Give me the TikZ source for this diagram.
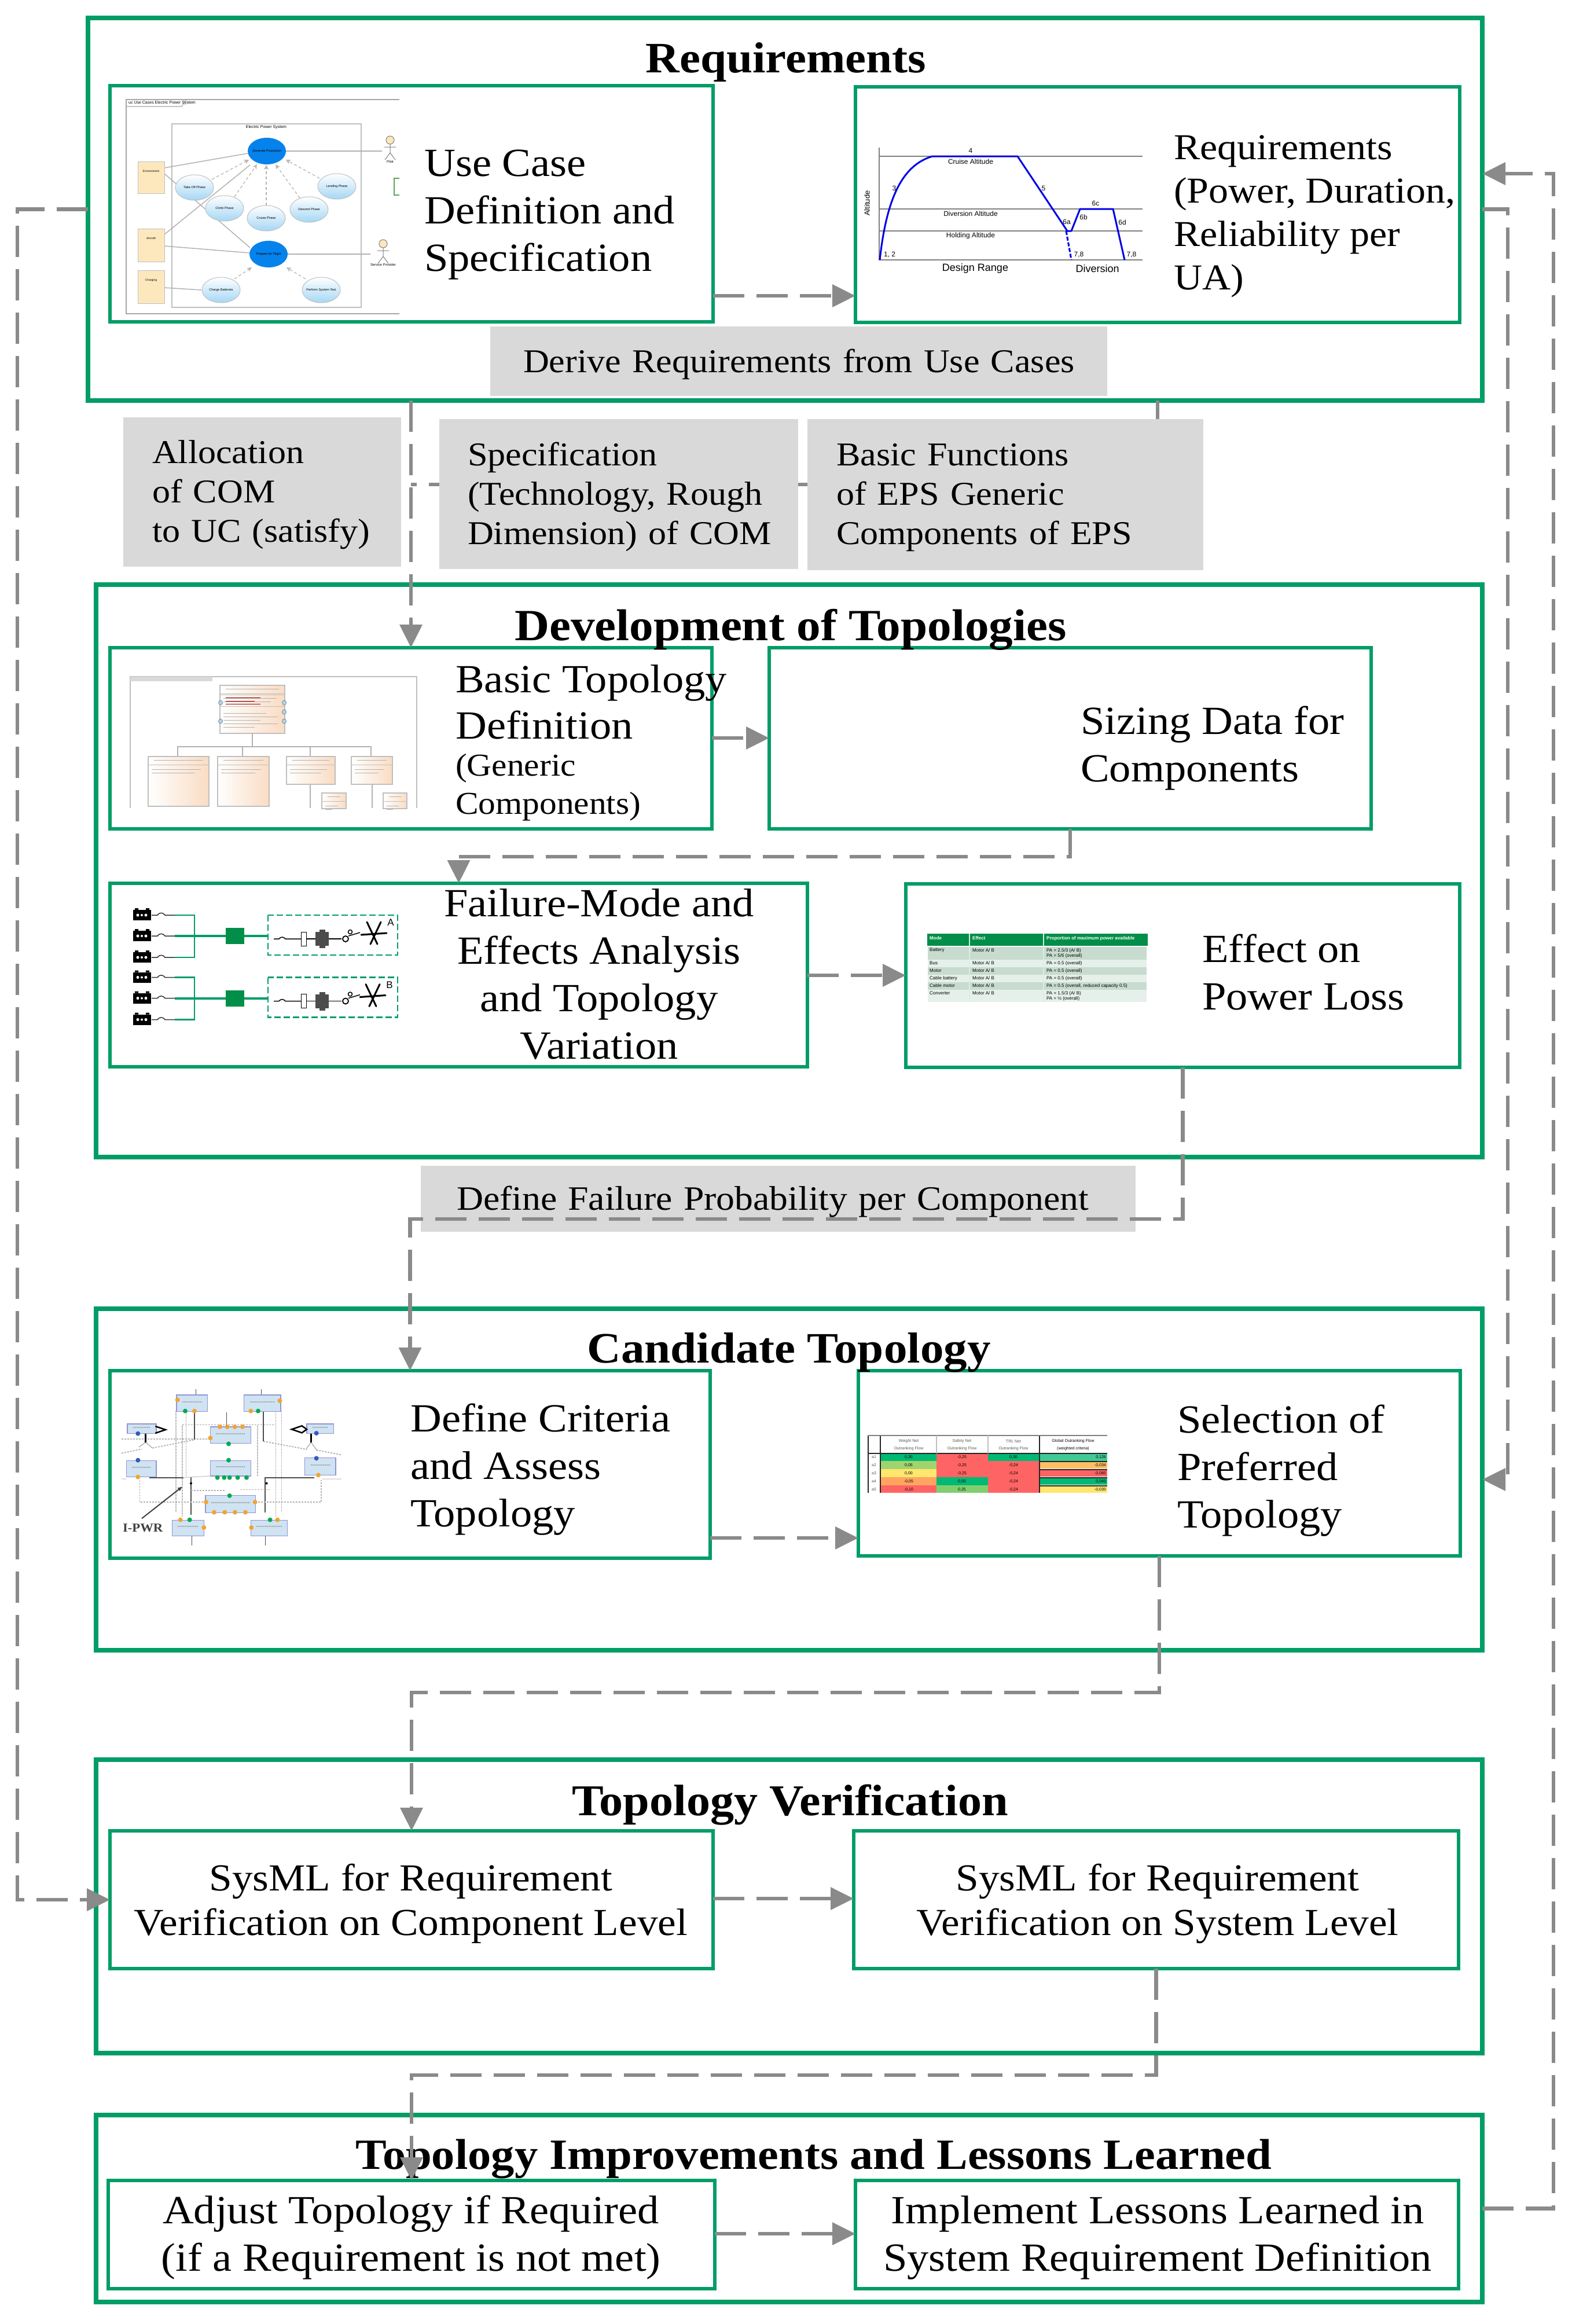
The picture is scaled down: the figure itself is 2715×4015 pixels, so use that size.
\documentclass[tikz,border=0pt]{standalone}
\usepackage{fontspec}
\setmainfont[FakeStretch=1.08]{Liberation Serif}
\newfontfamily\minif{Liberation Sans}
\usetikzlibrary{arrows.meta,calc}
\definecolor{boxgreen}{RGB}{0,157,102}
\definecolor{flowgray}{RGB}{138,138,138}
\definecolor{labgray}{RGB}{217,217,217}
\definecolor{ucblue}{RGB}{5,130,235}
\definecolor{ucpale}{RGB}{165,215,245}
\definecolor{peach}{RGB}{250,220,195}
\definecolor{amber}{RGB}{253,232,190}
\definecolor{tblgreen}{RGB}{0,142,72}
\definecolor{rowdark}{RGB}{199,220,207}
\definecolor{rowlight}{RGB}{230,240,234}
\definecolor{blockblue}{RGB}{207,227,243}
\definecolor{pip}{RGB}{240,165,50}
\definecolor{pipg}{RGB}{0,170,80}
\definecolor{pipb}{RGB}{50,90,190}
\definecolor{rkred}{RGB}{255,100,100}
\definecolor{rkgreen}{RGB}{0,185,115}
\definecolor{rklg}{RGB}{160,212,110}
\definecolor{rkyel}{RGB}{255,230,110}
\definecolor{rkora}{RGB}{255,165,95}
\newcommand\bodyf{\fontsize{69}{82}\selectfont}
\newcommand\labf{\fontsize{57.5}{68}\selectfont}
\newcommand\titf{\fontsize{75}{88}\selectfont\bfseries}
\tikzset{
  x=1pt,y=-1pt,
  outerbox/.style={draw=boxgreen,line width=7.5pt,inner sep=0pt,outer sep=0pt},
  innerbox/.style={draw=boxgreen,line width=6pt,fill=white,inner sep=0pt,outer sep=0pt},
  flowline/.style={draw=flowgray,line width=6.5pt,dash pattern=on 54pt off 21pt},
  flow/.style={flowline,-{Triangle[length=40pt,width=38pt,fill=flowgray]}},
  boxtext/.style={inner sep=0pt,anchor=west,align=left,font=\bodyf},
  boxctext/.style={inner sep=0pt,align=center,font=\bodyf},
  titletext/.style={inner sep=0pt,font=\titf},
  mtxt/.style={inner sep=0pt,font=\minif\fontsize{#1}{#1}\selectfont},
  mtxt/.default=9,
  thin gray/.style={draw=gray!60,line width=1.5pt},
  ucdash/.style={gray!60,line width=1.2pt,dash pattern=on 5pt off 4pt,-{Stealth[open,length=8pt,width=8pt]}},
}
\newcommand\bx[6]{\node[#6,minimum width={#4-#2},minimum height={#5-#3}] (#1) at ({(#2+#4)/2},{(#3+#5)/2}) {};}
\newcommand\glab[7]{\node[fill=labgray,inner sep=0pt,outer sep=0pt,minimum height={#5-#3},text width={#4-#2},font=\labf,align=left,anchor=west] (#1) at (#2,{(#3+#5)/2}) {\hspace*{#6pt}\parbox[c]{\dimexpr #4pt-#2pt-#6pt\relax}{\raggedright\vspace*{10pt}#7}};}
\begin{document}
\begin{tikzpicture}
\useasboundingbox (0,0) rectangle (2715,4015);
\fill[white] (0,0) rectangle (2715,4015);
% outer boxes
\bx{reqout}{152}{31}{2561}{692}{outerbox}
\bx{devout}{166}{1010}{2561}{1999}{outerbox}
\bx{candout}{166}{2261}{2561}{2851}{outerbox}
\bx{verout}{166}{3040}{2561}{3547}{outerbox}
\bx{impout}{166}{3654}{2561}{3977}{outerbox}
% inner boxes
\bx{uc}{190}{148}{1232}{556}{innerbox}
\bx{reqbox}{1478}{150}{2522}{557}{innerbox}
\bx{basic}{190}{1119}{1230}{1432}{innerbox}
\bx{sizing}{1329}{1119}{2369}{1432}{innerbox}
\bx{failure}{190}{1526}{1395}{1843}{innerbox}
\bx{effect}{1565}{1527}{2522}{1844}{innerbox}
\bx{criteria}{190}{2368}{1227}{2692}{innerbox}
\bx{selection}{1483}{2368}{2523}{2688}{innerbox}
\bx{comp}{190}{3163}{1232}{3401}{innerbox}
\bx{sysl}{1475}{3163}{2520}{3401}{innerbox}
\bx{adjust}{187}{3767}{1235}{3954}{innerbox}
\bx{implement}{1478}{3767}{2520}{3954}{innerbox}
% helper coordinates
\coordinate (railL) at (30,0);
\coordinate (railRa) at (2605,0);
\coordinate (railRb) at (2684,0);
\coordinate (xbranch) at (2000,0);
\coordinate (y300) at (0,300);
\coordinate (y511) at (0,511);
\coordinate (ybranch) at (0,837);
\coordinate (y1275) at (0,1275);
\coordinate (y1480) at (0,1480);
\coordinate (y1685) at (0,1685);
\coordinate (y2106) at (0,2106);
\coordinate (y2657) at (0,2657);
\coordinate (y2924) at (0,2924);
\coordinate (y3280) at (0,3280);
\coordinate (y3585) at (0,3585);
\coordinate (y3859) at (0,3859);
% connectors under the grey labels
\draw[flow] (reqout.south -| basic.north) -- (basic.north);
\draw[flowline] (reqout.south -| xbranch) |- (basic.north |- ybranch);
% grey labels
\glab{derive}{847}{564}{1913}{684}{57}{Derive Requirements from Use Cases}
\glab{alloc}{213}{721}{693}{979}{50}{Allocation\\of COM\\to UC (satisfy)}
\glab{spec}{759}{724}{1379}{983}{49}{Specification\\(Technology, Rough\\Dimension) of COM}
\glab{funcs}{1395}{724}{2079}{985}{50}{Basic Functions\\of EPS Generic\\Components of EPS}
\glab{deffail}{727}{2014}{1962}{2128}{62}{\fontsize{59}{68}\selectfont Define Failure Probability per Component}
% connectors
\draw[flow] (reqout.west) -- (railL |- reqout.west) -- (railL |- comp.west) -- (comp.west);
\draw[flow] (reqout.east) -- (railRa |- reqout.east) -- (railRa |- candout.east) -- (candout.east);
\draw[flow] (impout.east) -- (railRb |- impout.east) -- (railRb |- y300) -- (reqout.east |- y300);
\draw[flow] (uc.east |- y511) -- (reqbox.west |- y511);
\draw[flow] (basic.east |- y1275) -- (sizing.west |- y1275);
\draw[flow] (sizing.south) -- (sizing.south |- y1480) -| (failure.north);
\draw[flow] (failure.east |- y1685) -- (effect.west |- y1685);
\draw[flow] (effect.south) -- (effect.south |- y2106) -| (criteria.north);
\draw[flow] (criteria.east |- y2657) -- (selection.west |- y2657);
\draw[flow] (selection.south) -- (selection.south |- y2924) -| (comp.north);
\draw[flow] (comp.east |- y3280) -- (sysl.west |- y3280);
\draw[flow] (adjust.east |- y3859) -- (implement.west |- y3859);
% ===== use case miniature
\draw[gray!70,line width=1.5pt] (690,172) -- (218,172) -- (218,542) -- (690,542);
\draw[gray!70,line width=1.2pt] (218,184) -- (314,184) -- (322,172);
\node[mtxt=7,anchor=west] (uctag) at (222,178) {uc Use Cases Electric Power System};
\draw[gray!50,line width=1.5pt,fill=white] (297,214) rectangle (624,531);
\node[mtxt=7] (ucsys) at (460,220) {Electric Power System};
\draw[thin gray] (284,290) -- (428,265) (284,300) -- (432,428) (284,405) -- (432,285) (284,425) -- (432,437) (284,497) -- (348,501);
\draw[thin gray] (494,261) -- (660,261) (497,439) -- (640,439);
\draw[ucdash] (366,310) -- (430,276);
\draw[ucdash] (405,340) -- (444,284);
\draw[ucdash] (460,355) -- (460,285);
\draw[ucdash] (518,342) -- (476,284);
\draw[ucdash] (552,308) -- (494,276);
\draw[ucdash] (405,482) -- (435,462);
\draw[ucdash] (528,482) -- (495,462);
\foreach \cx/\cy/\tt in {336/324/Take-Off Phase,388/360/Climb Phase,460/377/Cruise Phase,534/362/Descent Phase,582/322/Landing Phase,382/501/Charge Batteries,555/501/Perform System Test}{
  \draw[gray!50,line width=1pt,top color=white,bottom color=ucpale] (\cx,\cy) ellipse (33 and 22);
  \node[mtxt=5.5] (ucn) at (\cx,\cy) {\tt};
}
\fill[ucblue] (461,261) ellipse (33 and 23);
\fill[ucblue] (464,439) ellipse (33 and 23);
\node[mtxt=5.5] (ucgp) at (461,261) {Generate Propulsion};
\node[mtxt=5.5] (ucpf) at (464,439) {Prepare for Flight};
\foreach \ya/\yb/\tt in {279/334/Environment,395/452/Aircraft,467/524/Charging}{
  \draw[gray!50,line width=1pt,fill=amber] (238,\ya) rectangle (284,\yb);
  \node[mtxt=5] (ucact) at (261,{\ya+17}) {\tt};
}
\foreach \ax/\ay in {674/242,662/421}{
  \draw[gray,fill=amber,line width=1pt] (\ax,\ay) ellipse (7 and 7);
  \draw[gray,line width=1pt] (\ax,\ay+7) -- (\ax,\ay+22) (\ax-10,\ay+12) -- (\ax+10,\ay+12) (\ax-9,\ay+34) -- (\ax,\ay+22) -- (\ax+9,\ay+34);
}
\node[mtxt=6] (ucpil) at (674,279) {Pilot};
\node[mtxt=6] (ucsvc) at (662,457) {Service Provider};
\draw[gray!70!green,line width=1.5pt] (690,308) -- (681,308) -- (681,337) -- (690,337);
% ===== mission chart
\draw[gray,line width=2pt] (1519,255) -- (1519,449) -- (1974,449);
\foreach \yy in {270,361,399}{\draw[gray,line width=2pt] (1519,\yy) -- (1974,\yy);}
\draw[blue!90!black,line width=3pt,line join=round] (1520,449) .. controls (1532,340) and (1560,285) .. (1611,270) -- (1758,270) -- (1844,399) -- (1851,399) -- (1866,361) -- (1923,361) -- (1943,449);
\draw[blue!90!black,line width=3pt,dash pattern=on 7pt off 3pt] (1842,399) -- (1851,449);
\node[mtxt=13,rotate=90] (mcalt) at (1498,351) {Altitude};
\foreach \lx/\ly/\tt in {1677/260/4,1677/279/Cruise Altitude,1677/369/Diversion Altitude,1677/407/Holding Altitude,1545/325/3,1803/325/5,1893/351/6c,1872/375/6b,1843/383/6a,1939/384/6d,1537/440/{1, 2},1864/440/{7,8},1955/440/{7,8}}{
  \node[mtxt=12] (mcl) at (\lx,\ly) {\tt};
}
\node[mtxt=18] (mcr) at (1685,464) {Design Range};
\node[mtxt=18] (mcd) at (1896,464) {Diversion};
% ===== class diagram
\draw[gray!50,line width=1.5pt] (225,1396) -- (225,1169) -- (720,1169) -- (720,1396);
\fill[gray!30] (225,1169) rectangle (367,1177);
\draw[gray!60,line width=2pt] (436,1267) -- (436,1290) (307,1307) -- (307,1290) -- (641,1290) -- (641,1307) (419,1290) -- (419,1307) (536,1290) -- (536,1307) (536,1355) -- (536,1396) (643,1355) -- (643,1396);
\foreach \xa/\ya/\xb/\yb in {380/1184/492/1267,256/1307/361/1393,376/1307/465/1393,495/1307/579/1355,607/1307/678/1355,556/1370/598/1397,662/1370/703/1397}{
  \draw[gray!50,line width=1.2pt,left color=white,right color=peach] (\xa,\ya) rectangle (\xb,\yb);
  \draw[gray!50,line width=1pt] (\xa,\ya+14) -- (\xb,\ya+14);
  \draw[gray!60,line width=1pt] ({\xa+10},\ya+6) -- ({\xb-10},\ya+6);
  \draw[gray!60,line width=1pt] ({\xa+6},\ya+22) -- ({\xb-14},\ya+22) ({\xa+6},\ya+28) -- ({\xb-24},\ya+28);
}
\draw[gray!50,line width=1pt] (380,1200) -- (492,1200) (380,1220) -- (492,1220);
\draw[red!60!black,line width=1pt] (390,1205) -- (450,1205) (390,1211) -- (440,1211) (390,1216) -- (450,1216);
\draw[gray!60,line width=1pt] (386,1232) -- (460,1232) (386,1238) -- (480,1238) (386,1244) -- (450,1244) (386,1250) -- (480,1250) (386,1256) -- (440,1256);
\foreach \px/\py in {381/1214,491/1214,491/1230,491/1246,381/1246}{\draw[gray,fill=ucpale,line width=.7pt] (\px,\py) ellipse (3.5 and 4);}
% ===== FMEA
\foreach \dy/\ll/\fx in {0/A/646,107.5/B/644}{
\begin{scope}[shift={(0,\dy)}]
  \foreach \by in {1581,1617,1654}{
    \fill[black] (230,\by-9) rectangle (261,\by+9);
    \fill[black] (233,\by-12) rectangle (239,\by-9) (252,\by-12) rectangle (258,\by-9);
    \fill[white] (238,\by) circle (2.5) (252,\by) circle (2.5) (245,\by) circle (2);
    \draw[black!80,line width=1.5pt] (262,\by) -- (272,\by) .. controls (275,\by-5) and (282,\by-5) .. (285,\by) -- (302,\by);
  }
  \draw[boxgreen,line width=2.5pt] (302,1581) -- (336,1581) -- (336,1654) -- (302,1654);
  \draw[boxgreen,line width=4pt] (302,1617) -- (392,1617);
  \fill[tblgreen] (390,1603) rectangle (422,1631);
  \draw[boxgreen,line width=4pt] (422,1617) -- (463,1617);
  \draw[boxgreen,line width=2.5pt,dash pattern=on 11pt off 5pt] (463,1581) rectangle (687,1650);
  \draw[black,line width=1.5pt] (473,1622) -- (482,1622) .. controls (485,1618) and (490,1618) .. (493,1622) -- (520,1622);
  \draw[black,line width=1pt,fill=white] (520,1610) rectangle (529,1634);
  \draw[black,line width=1.5pt] (529,1622) -- (548,1622);
  \fill[black!70] (545,1610) rectangle (568,1634);
  \fill[black!70] (552,1606) rectangle (562,1638);
  \draw[black,line width=1.5pt] (568,1622) -- (590,1622);
  \draw[black,line width=1.8pt,fill=white] (597,1622) circle (5);
  \draw[black,line width=1.5pt,fill=white] (605,1610) circle (3.5);
  \draw[black,line width=1.5pt] (602,1617) -- (622,1611);
  \draw[black,line width=3pt,line cap=round] (\fx-12,1593) -- (\fx+6,1631) (\fx+12,1593) -- (\fx-6,1631) (\fx-22,1615) -- (\fx+22,1612);
  \node[mtxt=17] (fmlab) at ($(\fx,1594)+(29,0)$) {\ll};
\end{scope}}
% ===== power-loss table
\fill[tblgreen] (1602,1613) rectangle (1983,1634);
\foreach \ya/\yb/\cc in {1636/1658/rowdark,1658/1671/rowlight,1671/1684/rowdark,1684/1697/rowlight,1697/1710/rowdark,1710/1731/rowlight}{\fill[\cc] (1603,\ya) rectangle (1981,\yb);}
\draw[white!85!tblgreen,line width=1.5pt] (1675,1613) -- (1675,1731) (1803,1613) -- (1803,1731);
\foreach \tx/\ty/\tt in {1606/1621/Mode,1680/1621/Effect,1808/1621/Proportion of maximum power available}{\node[mtxt=8,anchor=west,text=white] (ptb) at (\tx,\ty) {\bfseries\tt};}
\foreach \ty/\ta/\tb in {1642/Battery/{PA = 2.5/3 (A/ B)},1664/Bus/{PA = 0.5 (overall)},1677/Motor/{PA = 0.5 (overall)},1690/Cable battery/{PA = 0.5 (overall)},1703/Cable motor/{PA = 0.5 (overall, reduced capacity 0.5)},1716/Converter/{PA = 1.5/3 (A/ B)}}{
  \node[mtxt=8,anchor=west] (pa) at (1606,\ty) {\ta};
  \node[mtxt=8,anchor=west] (pm) at (1680,\ty) {Motor A/ B};
  \node[mtxt=8,anchor=west] (pr) at (1808,\ty) {\tb};
}
\node[mtxt=8,anchor=west] (pr2) at (1808,1651) {PA = 5/6 (overall)};
\node[mtxt=8,anchor=west] (pr3) at (1808,1725) {PA = ½ (overall)};
% ===== topology miniature
\begin{scope}[shift={(200,2400)},x=0.3333pt,y=-0.3333pt]
  \draw[gray!70,line width=1.5pt,densely dotted] (312,115) -- (312,635) (345,185) -- (345,660) (365,115) -- (365,450) (830,115) -- (830,660) (860,115) -- (860,635) (735,190) -- (735,450);
  \draw[gray!70,line width=1pt,densely dashed] (345,185) -- (830,185);
  \draw[gray!70,line width=1.5pt,densely dashed] (30,258) -- (490,258) (30,332) -- (135,310) (190,305) -- (408,262) (765,270) -- (980,310) (1040,315) -- (1170,340);
  \draw[gray!60!black,line width=1.5pt] (408,115) -- (408,262) (765,115) -- (765,270) (575,120) -- (575,185) (415,0) -- (415,30) (755,0) -- (755,30) (395,760) -- (395,810) (775,760) -- (775,810);
  \draw[gray!60!black,line width=1.8pt] (175,458) -- (350,458) (390,455) -- (390,650) (775,640) -- (775,458) -- (1030,458);
  \draw[gray!50,line width=1pt] (1070,465) -- (1170,465) (30,465) -- (55,465) (350,458) -- (490,450);
  \draw[gray!60,line width=1.2pt,densely dashed] (125,470) -- (125,585) -- (468,585) (722,585) -- (1065,585) -- (1065,470) (390,525) -- (570,525) (645,520) -- (800,520);
  \draw[gray!70,line width=1.2pt] (120,300) -- (155,275) -- (190,305) (985,315) -- (1012,275) -- (1045,320);
  \foreach \xa/\ya/\xb/\yb in {315/30/475/115,665/30/855/115,60/180/210/230,990/180/1130/230,490/195/700/280,490/370/700/450,55/370/210/455,980/355/1140/445,465/550/725/640,292/680/457/760,700/680/890/760}{
    \draw[gray!60!blue!60,line width=1.5pt,fill=blockblue] (\xa,\ya) rectangle (\xb,\yb);
    \draw[gray!70,line width=2pt,densely dotted] ({\xa+30},{(\ya+\yb)/2-8}) -- ({\xb-30},{(\ya+\yb)/2-8});
  }
  \foreach \px/\py in {320/55,408/113,700/113,850/60,540/195,578/195,617/195,657/195,490/253,115/455,1050/445,468/585,722/585,510/638,565/638,618/638,672/638,335/677,457/717,703/717,838/677}{\fill[pip] (\px,\py) circle (12);}
  \foreach \px/\py in {360/113,738/113,585/283,585/368,527/458,562/458,590/458,632/458,678/458,590/552,383/677,800/677}{\fill[pipg] (\px,\py) circle (12);}
  \foreach \px/\py in {115/230,1040/228,115/368,1040/358}{\fill[pipb] (\px,\py) circle (12);}
  \draw[black,line width=2.5pt] (205,192) -- (258,210) -- (205,228);
  \draw[black,line width=2.5pt] (965,190) -- (912,208) -- (965,226) -- (990,208) -- cycle;
  \draw[black,line width=3pt] (155,230) -- (155,275) (1012,230) -- (1012,275);
  \fill[black] (390,488) circle (6) (782,488) circle (6);
  \node[inner sep=0pt,font=\bfseries\fontsize{21}{21}\selectfont,text=black!75] (ipwr) at (140,720) {I-PWR};
  \draw[black!75,line width=2pt,-{Triangle[length=8pt,width=6pt]}] (135,670) -- (345,505);
\end{scope}
% ===== ranking table
\foreach \xa/\xb/\cola/\colb/\colc/\cold/\cole in {1521/1618/rkgreen/rklg/rkyel/rkora/rkred,1618/1707/rkred/rkred/rkred/rkgreen/rklg!80!rkgreen,1707/1796/rkgreen/rkred/rkred/rkred/rkred}{
  \fill[\cola] (\xa,2511) rectangle (\xb,2524);
  \fill[\colb] (\xa,2524) rectangle (\xb,2538);
  \fill[\colc] (\xa,2538) rectangle (\xb,2552);
  \fill[\cold] (\xa,2552) rectangle (\xb,2566);
  \fill[\cole] (\xa,2566) rectangle (\xb,2579);
}
\fill[rkgreen!75!white] (1796,2511) rectangle (1913,2524);
\fill[rkora!60!rkyel] (1796,2526) rectangle (1913,2537);
\fill[rkred] (1796,2540) rectangle (1913,2551);
\fill[rkgreen] (1796,2554) rectangle (1913,2565);
\fill[rkyel] (1796,2568) rectangle (1913,2579);
\draw[black!85,line width=2pt] (1500,2480) -- (1500,2579) (1521,2480) -- (1521,2579) (1796,2480) -- (1796,2579) (1500,2511) -- (1913,2511);
\draw[black!85,line width=2pt] (1796,2525) -- (1913,2525) (1796,2539) -- (1913,2539) (1796,2553) -- (1913,2553) (1796,2567) -- (1913,2567);
\draw[gray,line width=2pt] (1500,2480) -- (1913,2480);
\draw[gray!50,line width=1.5pt] (1618,2480) -- (1618,2511) (1707,2480) -- (1707,2511);
\foreach \cx/\ta/\tb in {1570/Weight Net/Outranking Flow,1662/Safety Net/Outranking Flow,1751/TRL Net/Outranking Flow}{
  \node[mtxt=7,text=black!65] (rka) at (\cx,2490) {\ta};
  \node[mtxt=7,text=black!65] (rkb) at (\cx,2503) {\tb};
}
\node[mtxt=7] (rkg) at (1854,2490) {Global Outranking Flow};
\node[mtxt=7] (rkh) at (1854,2503) {(weighted criteria)};
\foreach \ry/\rl/\va/\vb/\vc/\vd in {2517/a1/{0,30}/{-0,25}/{0,30}/{0,126},2531/a2/{0,05}/{-0,25}/{-0,24}/{-0,034},2545/a3/{0,00}/{-0,25}/{-0,24}/{-0,080},2559/a4/{-0,05}/{0,50}/{-0,24}/{0,040},2573/a5/{-0,10}/{0,25}/{-0,24}/{-0,030}}{
  \node[mtxt=7,text=black!65] (rkr) at (1510,\ry) {\rl};
  \node[mtxt=7] (rka1) at (1570,\ry) {\va};
  \node[mtxt=7] (rka2) at (1662,\ry) {\vb};
  \node[mtxt=7] (rka3) at (1751,\ry) {\vc};
  \node[mtxt=7,anchor=east] (rka4) at (1911,\ry) {\vd};
}
% box texts
\node[boxtext] (tuc) at (733,371) {Use Case\\Definition and\\Specification};
\node[boxtext,font=\fontsize{63}{75}\selectfont] (treq) at (2028,374) {Requirements\\(Power, Duration,\\Reliability per\\UA)};
\node[boxtext,font=\fontsize{69}{80}\selectfont] (tbas) at (787,1213) {Basic Topology\\Definition};
\node[boxtext,font=\fontsize{55}{66}\selectfont] (tbassub) at (787,1360) {(Generic\\Components)};
\node[boxtext] (tsiz) at (1867,1293) {Sizing Data for\\Components};
\node[boxctext] (tfail) at (1035,1683) {Failure-Mode and\\Effects Analysis\\and Topology\\Variation};
\node[boxtext] (teff) at (2077,1680) {Effect on\\Power Loss};
\node[boxtext] (tcrit) at (709,2539) {Define Criteria\\and Assess\\Topology};
\node[boxtext] (tsel) at (2034,2541) {Selection of\\Preferred\\Topology};
\node[boxctext,font=\fontsize{66}{77}\selectfont] (tcomp) at (710,3289) {SysML for Requirement\\Verification on Component Level};
\node[boxctext,font=\fontsize{66}{77}\selectfont] (tsys) at (2000,3289) {SysML for Requirement\\Verification on System Level};
\node[boxctext] (tadj) at (710,3866) {Adjust Topology if Required\\(if a Requirement is not met)};
\node[boxctext] (timp) at (2000,3866) {Implement Lessons Learned in\\System Requirement Definition};
% titles
\node[titletext] (t1) at (1358,107) {Requirements};
\node[titletext,font=\fontsize{77}{88}\selectfont\bfseries] (t2) at (1366,1088) {Development of Topologies};
\node[titletext] (t3) at (1363,2337) {Candidate Topology};
\node[titletext,font=\fontsize{76}{88}\selectfont\bfseries] (t4) at (1365,3118) {Topology Verification};
\node[titletext,font=\fontsize{74.5}{88}\selectfont\bfseries] (t5) at (1406,3730) {Topology Improvements and Lessons Learned};
% this connector crosses the title and lies over it
\draw[flow] (sysl.south) -- (sysl.south |- y3585) -| (adjust.north);
\end{tikzpicture}
\end{document}
